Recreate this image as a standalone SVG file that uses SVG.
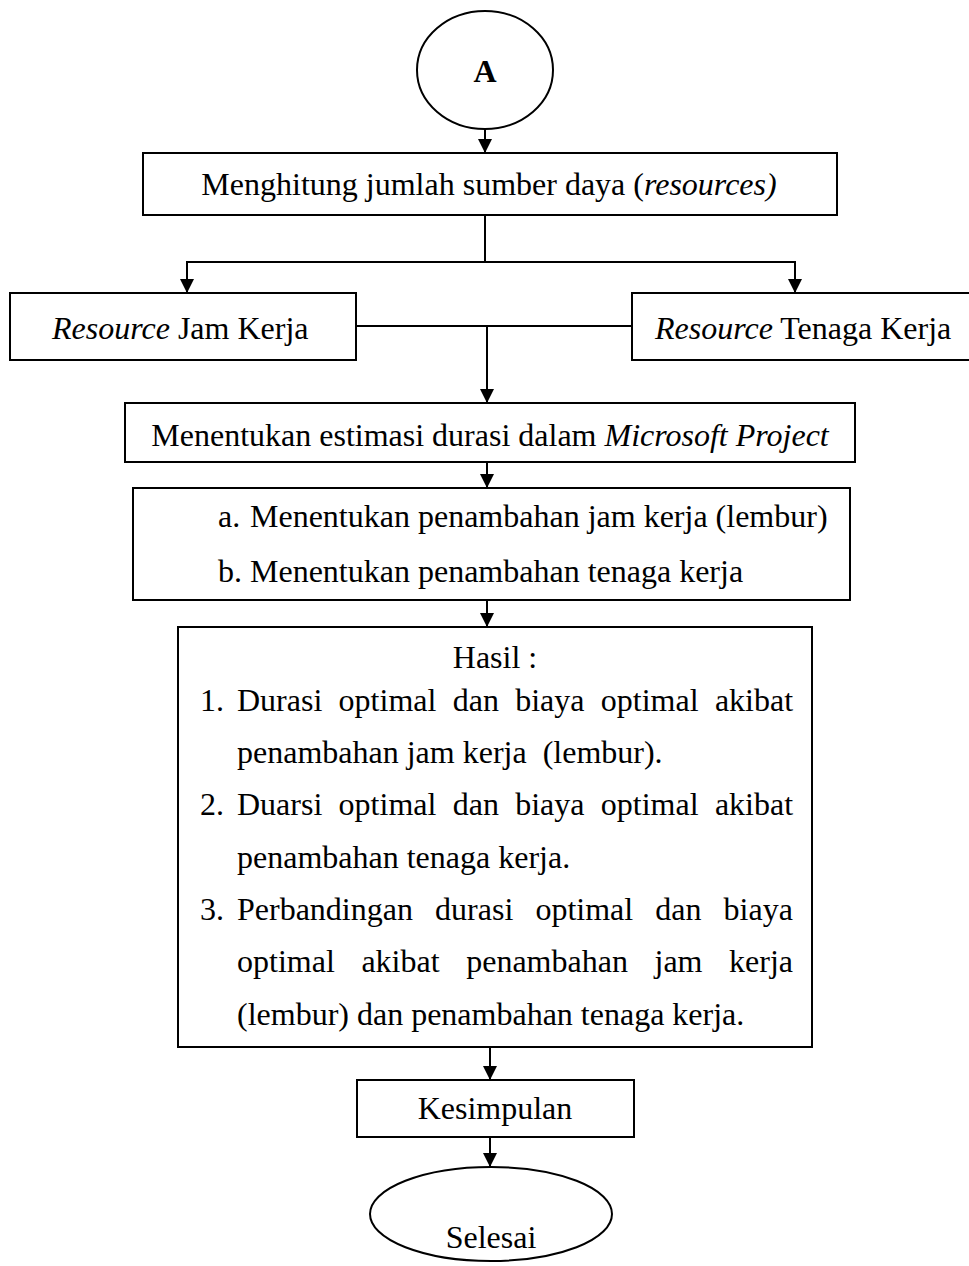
<svg xmlns="http://www.w3.org/2000/svg" width="969" height="1266" viewBox="0 0 969 1266">
<style>
.box{fill:#fff;stroke:#000;stroke-width:2}
.ln{fill:none;stroke:#000;stroke-width:2}
.t{font-family:"Liberation Serif","Times New Roman",serif;font-size:32px;fill:#000}
.c{text-anchor:middle}
.i{font-style:italic}
</style>
<defs>
<marker id="ah" markerUnits="userSpaceOnUse" markerWidth="14" markerHeight="14" refX="14" refY="7" orient="auto">
<path d="M0,0 L14,7 L0,14 z" fill="#000"/>
</marker>
</defs>
<rect width="969" height="1266" fill="#fff"/>
<g id="connectors">
<line class="ln" x1="485" y1="129" x2="485" y2="153" marker-end="url(#ah)"/>
<line class="ln" x1="485" y1="215" x2="485" y2="262"/>
<line class="ln" x1="186" y1="262" x2="796" y2="262"/>
<line class="ln" x1="187" y1="262" x2="187" y2="293" marker-end="url(#ah)"/>
<line class="ln" x1="795" y1="262" x2="795" y2="293" marker-end="url(#ah)"/>
<line class="ln" x1="356" y1="326" x2="632" y2="326"/>
<line class="ln" x1="487" y1="326" x2="487" y2="403" marker-end="url(#ah)"/>
<line class="ln" x1="487" y1="462" x2="487" y2="488" marker-end="url(#ah)"/>
<line class="ln" x1="487" y1="600" x2="487" y2="627" marker-end="url(#ah)"/>
<line class="ln" x1="490" y1="1047" x2="490" y2="1080" marker-end="url(#ah)"/>
<line class="ln" x1="490" y1="1137" x2="490" y2="1167" marker-end="url(#ah)"/>
</g>
<g id="nodeA">
<ellipse class="box" cx="485" cy="70" rx="68" ry="59"/>
<text class="t c" x="485" y="82" font-weight="bold">A</text>
</g>
<g id="node-menghitung">
<rect class="box" x="143" y="153" width="694" height="62"/>
<text class="t c" x="489" y="195">Menghitung jumlah sumber daya (<tspan class="i">resources)</tspan></text>
</g>
<g id="node-jam">
<rect class="box" x="10" y="293" width="346" height="67"/>
<text class="t" x="52" y="339"><tspan class="i">Resource</tspan> Jam Kerja</text>
</g>
<g id="node-tenaga">
<rect class="box" x="632" y="293" width="345" height="67"/>
<text class="t" x="655" y="339"><tspan class="i">Resource</tspan> Tenaga Kerja</text>
</g>
<g id="node-estimasi">
<rect class="box" x="125" y="403" width="730" height="59"/>
<text class="t c" x="490" y="446">Menentukan estimasi durasi dalam <tspan class="i">Microsoft Project</tspan></text>
</g>
<g id="node-ab">
<rect class="box" x="133" y="488" width="717" height="112"/>
<text class="t" x="218" y="527">a.</text>
<text class="t" x="250" y="527">Menentukan penambahan jam kerja (lembur)</text>
<text class="t" x="218" y="582">b.</text>
<text class="t" x="250" y="582">Menentukan penambahan tenaga kerja</text>
</g>
<g id="node-hasil">
<rect class="box" x="178" y="627" width="634" height="420"/>
<text class="t c" x="495" y="668">Hasil :</text>
<text class="t" x="200" y="711">1.</text>
<text class="t" y="711"><tspan x="237">Durasi</tspan><tspan x="338.6">optimal</tspan><tspan x="452.7">dan</tspan><tspan x="515.2">biaya</tspan><tspan x="600.8">optimal</tspan><tspan x="714.9">akibat</tspan></text>
<text class="t" x="237" y="763">penambahan jam kerja&#160; (lembur).</text>
<text class="t" x="200" y="815">2.</text>
<text class="t" y="815"><tspan x="237">Duarsi</tspan><tspan x="338.6">optimal</tspan><tspan x="452.7">dan</tspan><tspan x="515.2">biaya</tspan><tspan x="600.8">optimal</tspan><tspan x="714.9">akibat</tspan></text>
<text class="t" x="237" y="868">penambahan tenaga kerja.</text>
<text class="t" x="200" y="920">3.</text>
<text class="t" y="920"><tspan x="237">Perbandingan</tspan><tspan x="435.1">durasi</tspan><tspan x="535.4">optimal</tspan><tspan x="655.3">dan</tspan><tspan x="723.6">biaya</tspan></text>
<text class="t" y="972"><tspan x="237">optimal</tspan><tspan x="361.4">akibat</tspan><tspan x="466.2">penambahan</tspan><tspan x="654.5">jam</tspan><tspan x="729.1">kerja</tspan></text>
<text class="t" x="237" y="1025">(lembur) dan penambahan tenaga kerja.</text>
</g>
<g id="node-kesimpulan">
<rect class="box" x="357" y="1080" width="277" height="57"/>
<text class="t c" x="495" y="1119">Kesimpulan</text>
</g>
<g id="node-selesai">
<ellipse class="box" cx="491" cy="1214" rx="121" ry="47"/>
<text class="t c" x="491" y="1248">Selesai</text>
</g>
</svg>
